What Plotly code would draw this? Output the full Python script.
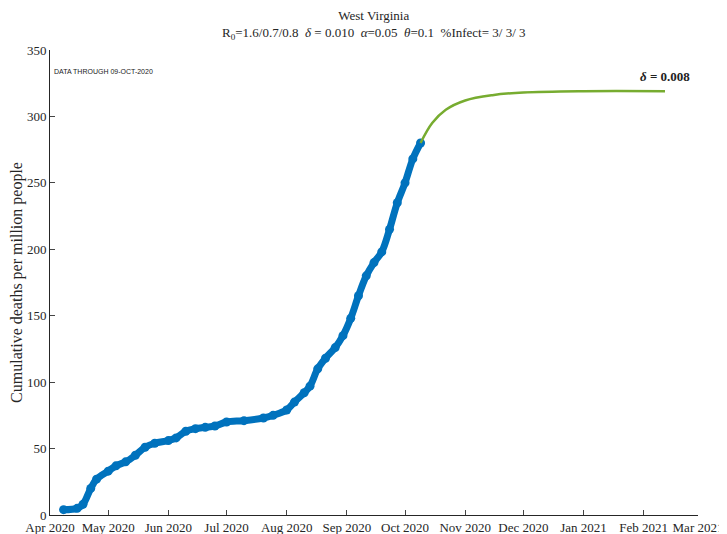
import plotly.graph_objects as go

obs_dates = ["2020-04-08","2020-04-15","2020-04-18","2020-04-22","2020-04-25","2020-05-01","2020-05-05","2020-05-10",
             "2020-05-15","2020-05-20","2020-05-25","2020-06-01","2020-06-05","2020-06-10","2020-06-15","2020-06-20",
             "2020-06-25","2020-07-01","2020-07-10","2020-07-20","2020-07-25","2020-08-01","2020-08-05","2020-08-10",
             "2020-08-13","2020-08-17","2020-08-21","2020-08-26","2020-08-30","2020-09-03","2020-09-07","2020-09-11",
             "2020-09-15","2020-09-19","2020-09-23","2020-09-27","2020-10-01","2020-10-05","2020-10-09"]
obs_vals = [4,5,8,20,27,33,37,40,45,51,54,56,58,63,65,66,67,70,71,73,75,79,85,92,97,110,118,126,135,148,165,180,
            190,198,215,235,250,268,280]

model_dates = ["2020-10-09","2020-10-15","2020-10-22","2020-11-01","2020-11-15","2020-12-01","2021-01-01","2021-02-12"]
model_vals = [280,295,305,312,316,318,319,319]

fig = go.Figure()
fig.add_trace(go.Scatter(x=obs_dates, y=obs_vals, mode="lines", line=dict(color="#77AC30", width=2)))
fig.add_trace(go.Scatter(x=obs_dates, y=obs_vals, mode="lines+markers", line=dict(color="#0072BD", width=7, shape="spline"),
                         marker=dict(color="#0072BD", size=9)))
fig.add_trace(go.Scatter(x=model_dates, y=model_vals, mode="lines", line=dict(color="#77AC30", width=2.5, shape="spline")))

font = "Liberation Serif"
fig.update_layout(
    width=727, height=534, showlegend=False, plot_bgcolor="white", paper_bgcolor="white",
    margin=dict(l=42, r=37, t=42, b=27),
    font=dict(family=font, size=13, color="#262626"),
    xaxis=dict(range=["2020-04-01","2021-03-01"], tickvals=["2020-04-01","2020-05-01","2020-06-01","2020-07-01","2020-08-01",
               "2020-09-01","2020-10-01","2020-11-01","2020-12-01","2021-01-01","2021-02-01","2021-03-01"],
               ticktext=["Apr 2020","May 2020","Jun 2020","Jul 2020","Aug 2020","Sep 2020","Oct 2020","Nov 2020",
                         "Dec 2020","Jan 2021","Feb 2021","Mar 2021"], automargin=False,
               showline=True, linecolor="#262626", ticks="inside", ticklen=5, showgrid=False, zeroline=False),
    yaxis=dict(range=[0,350], dtick=50, showline=True, linecolor="#262626", ticks="inside", ticklen=5, automargin=False,
               showgrid=False, zeroline=False, title=dict(text="Cumulative deaths per million people", standoff=8)),
)
fig.add_annotation(xref="paper", yref="paper", x=0.5, y=1.0, yshift=6, yanchor="bottom", showarrow=False,
                   text="West Virginia<br>R<sub>0</sub>=1.6/0.7/0.8  <i>δ</i> = 0.010  <i>α</i>=0.05  <i>θ</i>=0.1  %Infect= 3/ 3/ 3",
                   font=dict(size=13))
fig.add_annotation(x="2021-02-12", y=330, text="<b><i>δ</i> = 0.008</b>", showarrow=False, font=dict(size=13, color="#222"))
fig.add_annotation(xref="paper", yref="paper", x=0.003, y=0.965, text="DATA THROUGH 09-OCT-2020", showarrow=False,
                   xanchor="left", font=dict(family="Liberation Sans", size=7, color="#222"))
fig.write_html("out.html")
